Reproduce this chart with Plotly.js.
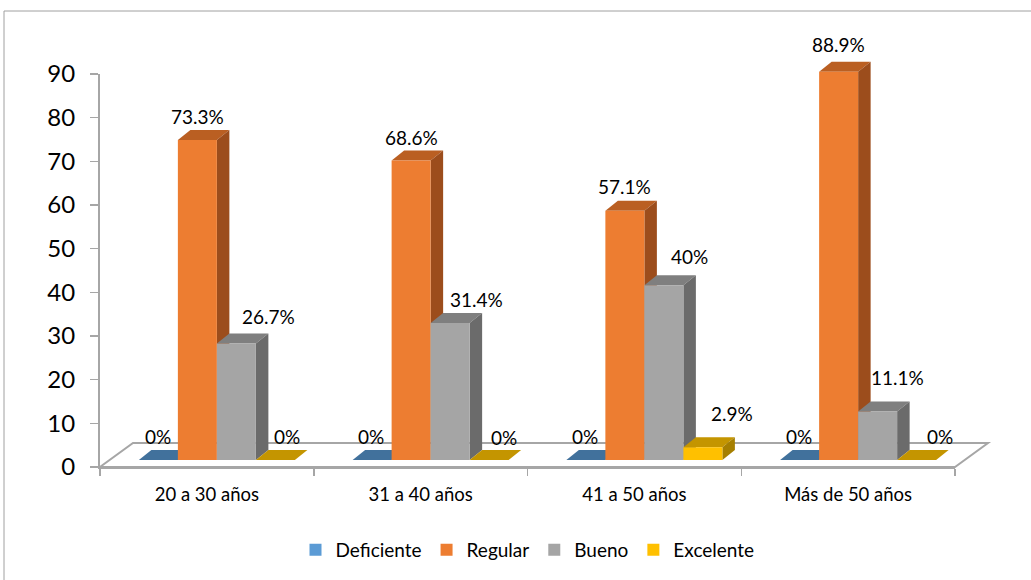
<!DOCTYPE html>
<html>
<head>
<meta charset="utf-8">
<script src="https://cdn.plot.ly/plotly-3.0.1.min.js"></script>
<style>html,body{margin:0;padding:0;background:#fff;}#chart{width:1031px;height:580px;}</style>
</head>
<body>
<div id="chart"></div>
<script>
// ---- data ----
const categories = ['20 a 30 años', '31 a 40 años', '41 a 50 años', 'Más de 50 años'];
const seriesNames = ['Deficiente', 'Regular', 'Bueno', 'Excelente'];
const deficiente = [0, 0, 0, 0];
const regular = [73.3, 68.6, 57.1, 88.9];
const bueno = [26.7, 31.4, 40, 11.1];
const excelente = [0, 0, 2.9, 0];
const yTickValues = [0, 10, 20, 30, 40, 50, 60, 70, 80, 90];

// ---- style ----
const frontColors = ['#5B9BD5', '#ED7D31', '#A5A5A5', '#FFC000'];
const topColors = ['#41719C', '#BA5F22', '#7F7F7F', '#C49500'];
const sideColors = ['#35608A', '#9C4D1C', '#6B6B6B', '#A67F00'];
// label nudges in pixels (per series, per category)
const labelDx = [[0, -1, -1, -1], [0, 0, 0, 0], [32, 26, 26, 20], [12, 15, 29, 23]];
const labelDy = [[24, 24, 24, 24], [23.5, 23, 24, 27], [26.5, 23.5, 29, 34], [23.5, 23, 34, 23.5]];

const W = 1031, H = 580, ML = 100, MR = 76, MT = 30, MB = 113;
const plotW = W - ML - MR, plotH = H - MT - MB;
const axisTopPx = 74, axisZeroPx = H - MB;
const pxY = (axisZeroPx - axisTopPx) / 90;
const pxX = plotW / categories.length;
const barBaseLift = 7;         // px bars sit above the front floor edge
const groupShiftPx = 10;       // px shift of the bar group to the right
const depthX = 12.5, depthY = 10;
const groupWidth = 0.73;
const barW = groupWidth / seriesNames.length;
const dxu = depthX / pxX, dyu = depthY / pxY;
const y2min = -barBaseLift / pxY;
const y2range = [y2min, y2min + plotH / pxY];
const x2shift = groupShiftPx / pxX;

const allSeries = [deficiente, regular, bueno, excelente];
const fontFam = 'Lato, "Open Sans", sans-serif';

const traces = [];
// dummy trace to carry the category axis
traces.push({x: categories, y: [0, 0, 0, 0], xaxis: 'x', yaxis: 'y', type: 'scatter', mode: 'markers',
  marker: {opacity: 0}, showlegend: false, hoverinfo: 'skip'});

allSeries.forEach((vals, j) => {
  traces.push({
    type: 'bar', name: seriesNames[j], x: categories.map((c, i) => i), y: vals,
    xaxis: 'x2', yaxis: 'y2', marker: {color: frontColors[j], line: {width: 0}},
    hoverinfo: 'skip', textposition: 'none'
  });
});

const shapes = [];
// floor
const fx = p => (p - ML) / plotW, fy = p => (axisZeroPx - p) / plotH;
shapes.push({type: 'path', xref: 'paper', yref: 'paper', layer: 'below',
  path: `M${fx(100)},${fy(467)} L${fx(955)},${fy(467)} L${fx(988)},${fy(443)} L${fx(133)},${fy(443)} Z`,
  fillcolor: '#FFFFFF', line: {color: '#A6A6A6', width: 2}});
// chart border
shapes.push({type: 'rect', xref: 'paper', yref: 'paper', layer: 'below',
  x0: fx(4), x1: fx(1045), y0: fy(11), y1: fy(600), line: {color: '#A0A0A0', width: 1}, fillcolor: 'rgba(0,0,0,0)'});

const annotations = [];
categories.forEach((c, i) => {
  allSeries.forEach((vals, j) => {
    const v = vals[i];
    const L = i - groupWidth / 2 + j * barW;
    const R = L + barW;
    // top face
    shapes.push({type: 'path', xref: 'x2', yref: 'y2', layer: 'below',
      path: `M${L},${v} L${L + dxu},${v + dyu} L${R + dxu},${v + dyu} L${R},${v} Z`,
      fillcolor: topColors[j], line: {width: 0}});
    if (v > 0) {
      shapes.push({type: 'path', xref: 'x2', yref: 'y2', layer: 'below',
        path: `M${R},${v} L${R + dxu},${v + dyu} L${R + dxu},${dyu} L${R},0 Z`,
        fillcolor: sideColors[j], line: {width: 0}});
    }
    annotations.push({xref: 'x2', yref: 'y2', x: (L + R) / 2, y: v, text: String(v) + '%',
      showarrow: false, xanchor: 'center', yanchor: 'middle',
      xshift: labelDx[j][i], yshift: labelDy[j][i],
      font: {family: fontFam, size: 19, color: '#000'}});
  });
});

const layout = {
  width: W, height: H, margin: {l: ML, r: MR, t: MT, b: MB},
  paper_bgcolor: '#FFFFFF', plot_bgcolor: 'rgba(0,0,0,0)',
  font: {family: fontFam, color: '#000'},
  barmode: 'group', bargap: 1 - groupWidth, bargroupgap: 0,
  showlegend: true,
  legend: {orientation: 'h', x: 0.5, xanchor: 'center', yref: 'container', y: 1 - 550 / H, yanchor: 'middle',
    font: {family: fontFam, size: 19, color: '#000'}, itemclick: false, itemwidth: 30},
  xaxis: {type: 'category', categoryorder: 'array', categoryarray: categories, range: [-0.5, categories.length - 0.5],
    domain: [0, 1], anchor: 'y', tickson: 'boundaries', ticks: 'outside', ticklen: 7, tickwidth: 1.5, tickcolor: '#A6A6A6',
    showline: true, linecolor: '#A6A6A6', linewidth: 2, showgrid: false, zeroline: false,
    tickfont: {family: fontFam, size: 18.5, color: '#000'}, ticklabelstandoff: 10, fixedrange: true},
  yaxis: {domain: [0, (axisZeroPx - axisTopPx) / plotH], anchor: 'x', range: [0, 90], tickmode: 'array', tickvals: yTickValues,
    ticks: 'outside', ticklen: 8, tickwidth: 1.5, tickcolor: '#A6A6A6', showline: true, linecolor: '#A6A6A6', linewidth: 2,
    showgrid: false, zeroline: false, tickfont: {family: fontFam, size: 24, color: '#000'}, ticklabelstandoff: 10, fixedrange: true},
  xaxis2: {domain: [0, 1], anchor: 'y2', range: [-0.5 - x2shift, categories.length - 0.5 - x2shift], visible: false, fixedrange: true},
  yaxis2: {domain: [0, 1], anchor: 'x2', range: y2range, visible: false, fixedrange: true},
  shapes: shapes, annotations: annotations
};

Plotly.newPlot('chart', traces, layout, {displayModeBar: false, staticPlot: true});
</script>
</body>
</html>
